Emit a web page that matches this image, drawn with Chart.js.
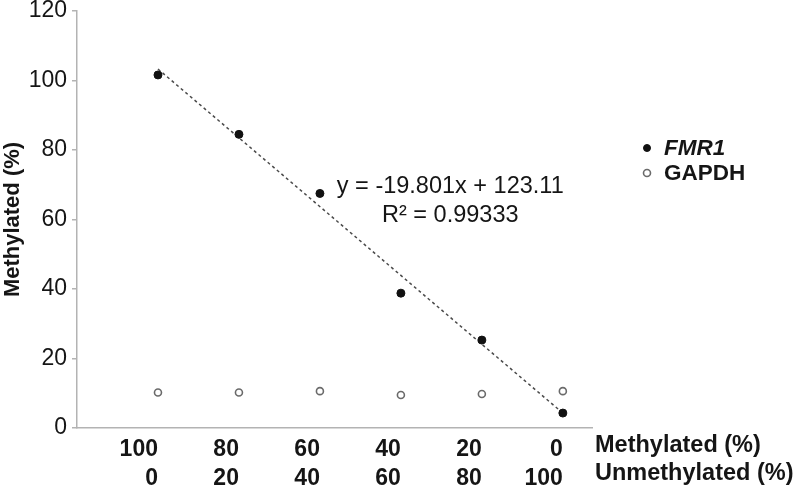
<html><head>
<title>FMR1 methylation standard curve</title>
<style>
  body {
    margin: 0;
    background-color: white;
  }
  .wrap {
    width: 794px;
    height: 496px;
  }
</style>
<script src="https://cdn.jsdelivr.net/npm/chart.js"></script>
</head>
<body>
  <div class="wrap"><canvas id="curveChart" width="794" height="496"></canvas></div>

  <script>
    // Values
    const methylated = ['100', '80', '60', '40', '20', '0'];
    const unmethylated = ['0', '20', '40', '60', '80', '100'];
    const fmr1 = [101.6, 84.5, 67.5, 38.8, 25.3, 4.3];
    const gapdh = [10.2, 10.2, 10.6, 9.5, 9.8, 10.6];
    const trendX = [1, 6];
    const trendY = [103.3, 4.3];
    const yTicks = [0, 20, 40, 60, 80, 100, 120];
    const equation = ['y = -19.801x + 123.11', 'R\u00b2 = 0.99333'];
    const rowTitles = ['Methylated (%)', 'Unmethylated (%)'];

    const FONT = '"Liberation Sans", Arial, Helvetica, sans-serif';
    const AXIS = '#b3b3b3';

    const toPoints = arr => arr.map((v, i) => ({ x: i + 1, y: v }));

    // draws the equation, the row titles under the x axis and the legend
    const extras = {
      id: 'extras',
      afterDraw(chart) {
        const ctx = chart.ctx;
        const xs = chart.scales.x, ys = chart.scales.y;
        const area = chart.chartArea;
        ctx.save();
        ctx.fillStyle = '#151515';

        // equation text
        ctx.font = '23.5px ' + FONT;
        ctx.textAlign = 'center';
        ctx.textBaseline = 'middle';
        const ex = xs.getPixelForValue(4.61);
        const ey = ys.getPixelForValue(69.4);
        equation.forEach((t, i) => ctx.fillText(t, ex, ey + i * 29));

        // row titles right of the x tick labels
        ctx.font = 'bold 23.5px ' + FONT;
        ctx.textAlign = 'left';
        rowTitles.forEach((t, i) => ctx.fillText(t, area.right + 3, xs.top + 18 + i * 28));

        // legend
        const lx = area.right + 55, ly = 149;
        chart.data.datasets.filter(d => d.inLegend).forEach((d, i) => {
          const y = ly + i * 25;
          ctx.beginPath();
          ctx.arc(lx, y - 1, 3.5, 0, Math.PI * 2);
          ctx.fillStyle = d.backgroundColor;
          ctx.fill();
          ctx.lineWidth = d.borderWidth;
          ctx.strokeStyle = d.borderColor;
          ctx.stroke();
          ctx.fillStyle = '#151515';
          ctx.font = (d.italic ? 'italic ' : '') + 'bold 22.5px ' + FONT;
          ctx.fillText(d.label, lx + 17, y);
        });
        ctx.restore();
      }
    };

    new Chart(document.getElementById('curveChart'), {
      type: 'scatter',
      data: {
        datasets: [
          {
            label: 'FMR1',
            italic: true,
            inLegend: true,
            data: toPoints(fmr1),
            backgroundColor: '#111',
            borderColor: '#111',
            borderWidth: 1,
            pointRadius: 4,
            order: 1
          },
          {
            label: 'GAPDH',
            inLegend: true,
            data: toPoints(gapdh),
            backgroundColor: '#fff',
            borderColor: '#6a6a6a',
            borderWidth: 1.6,
            pointRadius: 3.5,
            order: 2
          },
          {
            type: 'line',
            label: 'trend',
            data: trendX.map((x, i) => ({ x: x, y: trendY[i] })),
            borderColor: '#4a4a4a',
            borderWidth: 1.5,
            borderDash: [3, 3],
            pointRadius: 0,
            fill: false,
            order: 3
          }
        ]
      },
      options: {
        responsive: false,
        animation: false,
        layout: { padding: { top: 11, right: 202, bottom: 0, left: 0 } },
        plugins: {
          legend: { display: false },
          tooltip: { enabled: false }
        },
        scales: {
          x: {
            type: 'linear',
            min: 0,
            max: 6.36,
            afterBuildTicks: s => { s.ticks = methylated.map((_, i) => ({ value: i + 1 })); },
            afterFit: s => { s.height = 68; s.paddingLeft = 0; s.paddingRight = 0; },
            grid: { display: false, drawTicks: false },
            border: { display: true, color: AXIS, width: 1.5 },
            ticks: {
              align: 'end',
              padding: 7,
              color: '#151515',
              font: { family: FONT, size: 23, weight: 'bold', lineHeight: 1.27 },
              callback: (v, i) => [methylated[i], unmethylated[i]]
            }
          },
          y: {
            min: 0,
            max: 120,
            afterBuildTicks: s => { s.ticks = yTicks.map(v => ({ value: v })); },
            afterFit: s => { s.width = 77; s.paddingTop = 0; s.paddingBottom = 0; },
            grid: { display: true, drawOnChartArea: false, drawTicks: true, tickLength: 5, color: AXIS, lineWidth: 1.5 },
            border: { display: true, color: AXIS, width: 1.5 },
            ticks: {
              padding: 5,
              color: '#151515',
              font: { family: FONT, size: 23 }
            },
            title: {
              display: true,
              text: 'Methylated (%)',
              color: '#151515',
              padding: { top: 0, bottom: 0 },
              font: { family: FONT, size: 22, weight: 'bold', lineHeight: 1.2 }
            }
          }
        }
      },
      plugins: [extras]
    });
  </script>
</body></html>
